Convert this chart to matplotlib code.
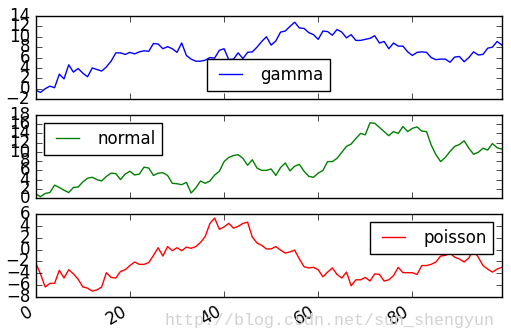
import numpy as np
import matplotlib
matplotlib.use('Agg')
import matplotlib.pyplot as plt

plt.style.use('classic')

gamma = [-0.3, -0.7, 0.0, 0.5, 0.2, 2.8, 1.9, 4.6, 3.2, 3.9,
         3.0, 2.3, 4.0, 3.7, 3.4, 4.2, 5.3, 6.9, 6.9, 6.6,
         7.0, 6.7, 7.1, 7.3, 7.2, 8.7, 8.6, 7.7, 8.1, 7.7,
         7.0, 8.8, 6.4, 5.7, 5.3, 5.3, 5.5, 6.0, 5.9, 7.4,
         7.7, 5.6, 5.7, 6.9, 5.8, 7.0, 7.1, 8.0, 9.1, 10.0,
         8.4, 9.2, 10.9, 11.1, 12.0, 12.8, 11.7, 11.6, 10.8, 10.4,
         9.5, 11.1, 11.0, 10.3, 11.4, 10.9, 9.8, 10.4, 9.3, 9.3,
         9.5, 9.7, 10.2, 8.8, 9.1, 7.7, 8.8, 8.2, 8.2, 7.1,
         6.4, 7.0, 7.1, 7.0, 6.0, 5.6, 5.7, 5.7, 5.1, 6.1,
         6.2, 5.2, 6.0, 7.1, 6.5, 6.6, 7.8, 8.0, 9.1, 8.4]

normal = [0.9, 0.3, 1.0, 1.2, 2.8, 2.3, 1.7, 1.2, 2.3, 2.4,
          3.5, 4.3, 4.5, 4.0, 3.7, 4.7, 5.4, 5.3, 4.0, 5.2,
          5.8, 5.0, 5.2, 6.7, 6.5, 4.9, 5.4, 5.5, 4.9, 3.2,
          3.1, 2.9, 3.4, 1.1, 2.2, 3.7, 3.2, 3.7, 5.0, 5.8,
          7.9, 8.8, 9.2, 9.4, 8.6, 7.1, 8.3, 6.5, 6.0, 6.0,
          6.3, 4.9, 6.6, 7.6, 5.9, 6.9, 7.3, 5.8, 4.7, 4.5,
          5.4, 6.0, 7.9, 7.9, 8.6, 9.9, 11.2, 11.7, 12.9, 14.0,
          13.7, 16.3, 16.2, 15.3, 14.4, 13.5, 14.4, 14.0, 15.5, 14.4,
          15.1, 15.4, 14.5, 14.4, 11.5, 9.4, 7.9, 8.8, 10.1, 11.2,
          11.6, 12.4, 10.8, 9.5, 9.9, 10.8, 10.4, 11.8, 10.9, 10.6]

poisson = [-2.3, -4.1, -6.3, -5.7, -5.7, -3.5, -4.8, -3.4, -4.1, -5.0,
           -6.3, -6.5, -7.0, -6.8, -6.3, -3.9, -4.7, -4.8, -3.7, -3.4,
           -2.7, -2.1, -2.5, -2.5, -2.2, -1.0, 0.3, -1.1, 0.5, -0.2,
           0.3, -0.2, 0.4, 0.2, 0.5, 1.2, 2.2, 4.4, 5.3, 3.4,
           3.8, 4.4, 3.6, 3.9, 4.4, 4.6, 2.1, 1.1, 0.7, 0.1,
           0.1, 0.5, -0.1, -0.6, -0.4, -0.1, -1.6, -2.9, -3.1, -3.0,
           -3.4, -4.6, -3.8, -3.1, -4.2, -4.8, -3.8, -6.1, -5.1, -5.1,
           -4.7, -5.3, -4.1, -4.2, -5.3, -5.1, -4.4, -3.0, -3.9, -3.9,
           -3.9, -4.2, -2.7, -2.7, -2.5, -2.1, -1.1, -1.0, -0.6, -1.3,
           -1.6, -2.1, -1.4, -0.1, -1.3, -2.7, -3.3, -3.8, -3.3, -3.0]

x = np.arange(len(gamma))

fig, axes = plt.subplots(3, 1, sharex=True, figsize=(5.11, 3.33), dpi=100)
fig.subplots_adjust(left=0.07, right=0.982, top=0.952, bottom=0.108, hspace=0.19)

series = [(gamma, 'b', 'gamma', 'lower center', (-2, 14)),
          (normal, 'g', 'normal', 'upper left', (0, 18)),
          (poisson, 'r', 'poisson', 'upper right', (-8, 6))]

for ax, (vals, c, name, loc, lim) in zip(axes, series):
    ax.plot(x, vals, color=c, label=name)
    ax.set_ylim(*lim)
    ax.set_yticks(np.arange(lim[0], lim[1] + 1, 2))
    ax.legend(loc=loc, fontsize=12)

axes[-1].set_xlim(0, 99)
axes[-1].set_xticks([0, 20, 40, 60, 80])
for lab in axes[-1].get_xticklabels():
    lab.set_rotation(30)
    lab.set_ha('right')

fig.text(0.968, 0.015, 'http://blog.csdn.net/sun_shengyun', ha='right', va='bottom',
         fontsize=12, color='#d2d2d2', family='Liberation Mono')

fig.savefig('out.png', dpi=100)
